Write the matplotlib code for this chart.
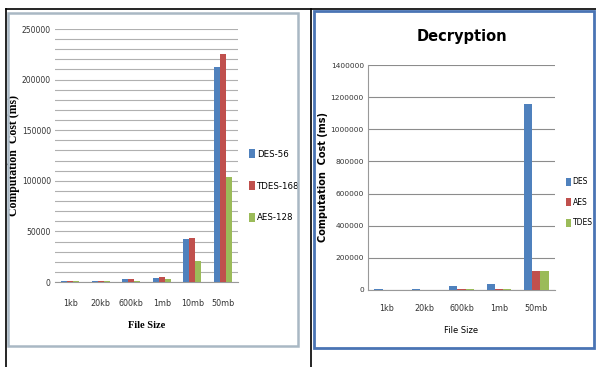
import matplotlib.pyplot as plt
from matplotlib.patches import Rectangle
from matplotlib.lines import Line2D
from matplotlib.ticker import FuncFormatter
import numpy as np

# 左图：加密（无标题）
enc_sizes = ['1kb', '20kb', '600kb', '1mb', '10mb', '50mb']
enc_des56 = [1000, 1000, 2500, 3500, 42000, 212000]
enc_tdes168 = [1000, 1000, 2500, 5000, 43000, 225000]
enc_aes128 = [500, 500, 1000, 2500, 21000, 104000]
enc_names = ['DES-56', 'TDES-168', 'AES-128']

# 右图：解密
dec_sizes = ['1kb', '20kb', '600kb', '1mb', '50mb']
dec_des = [5000, 5000, 28000, 35000, 1157000]
dec_aes = [3000, 3000, 5000, 5000, 120000]
dec_tdes = [3000, 3000, 5000, 5000, 120000]
dec_names = ['DES', 'AES', 'TDES']

colors = ['#4F81BD', '#C0504D', '#9BBB59']
W, H = 596, 367


def box(x0, y0, x1, y1):
    # 像素坐标 -> figure 坐标
    return [x0 / W, 1 - y1 / H, (x1 - x0) / W, (y1 - y0) / H]


fig = plt.figure(figsize=(W / 100, H / 100), dpi=100)
fig.patch.set_facecolor('white')

# 外框线
fig.add_artist(Line2D([6 / W, 1], [1 - 9 / H, 1 - 9 / H], color='black', lw=1.2))
fig.add_artist(Line2D([6 / W, 6 / W], [0, 1 - 9 / H], color='black', lw=1.2))
fig.add_artist(Line2D([311 / W, 311 / W], [0, 1 - 9 / H], color='black', lw=1.2))
fig.add_artist(Rectangle((8 / W, 1 - 346 / H), (298 - 8) / W, (346 - 13) / H,
                         fill=False, edgecolor='#a9b8c4', lw=1.8))
fig.add_artist(Rectangle((314 / W, 1 - 348 / H), (594 - 314) / W, (348 - 11) / H,
                         fill=False, edgecolor='#4a74b4', lw=2))


def draw_bars(ax, sizes, series, names, width, fs):
    x = np.arange(len(sizes))
    n = len(series)
    for i, (vals, name) in enumerate(zip(series, names)):
        ax.bar(x + (i - (n - 1) / 2) * width, vals, width, color=colors[i],
               label=name, zorder=3)
    ax.set_xticks(x)
    ax.set_xticklabels(sizes)
    ax.set_xlim(-0.5, len(sizes) - 0.5)
    for s in ['top', 'right']:
        ax.spines[s].set_visible(False)
    ax.spines['left'].set_color('#999999')
    ax.spines['bottom'].set_color('#999999')
    ax.tick_params(length=0, labelsize=fs, colors='#333333', pad=3)
    ax.yaxis.set_major_formatter(FuncFormatter(lambda v, p: f'{int(v)}'))
    return x


# 左图
ax1 = fig.add_axes(box(55, 29, 238, 282))
draw_bars(ax1, enc_sizes, [enc_des56, enc_tdes168, enc_aes128], enc_names, 0.2, 5.5)
ax1.set_ylim(0, 250000)
ax1.set_yticks(np.arange(0, 250001, 50000))
ax1.set_yticks(np.arange(0, 250001, 10000), minor=True)
ax1.tick_params(which='minor', length=0)
ax1.tick_params(axis='x', pad=12, labelsize=5.8)
ax1.grid(axis='y', which='both', color='#b0b0b0', lw=0.8, zorder=0)
ax1.spines['left'].set_visible(False)
ax1.set_xlabel('File Size', fontsize=7.5, fontweight='bold', family='Liberation Serif')
ax1.xaxis.set_label_coords(0.5, -0.155)
ax1.set_ylabel('Computation  Cost (ms)', fontsize=8.5, fontweight='bold',
               family='Liberation Serif')
ax1.yaxis.set_label_coords(-0.19, 0.5)
ax1.legend(loc='center left', bbox_to_anchor=(1.02, 0.38), frameon=False, fontsize=6.2,
           handlelength=0.7, handleheight=1.2, handletextpad=0.2, labelspacing=2.6)

# 右图
ax2 = fig.add_axes(box(368, 65, 555, 290))
draw_bars(ax2, dec_sizes, [dec_des, dec_aes, dec_tdes], dec_names, 0.22, 5.3)
ax2.set_ylim(0, 1400000)
ax2.set_yticks(np.arange(0, 1400001, 200000))
ax2.tick_params(axis='x', pad=10, labelsize=5.8)
ax2.grid(axis='y', color='#8c8c8c', lw=0.8, zorder=0)
ax2.set_title('Decryption', fontsize=10.5, fontweight='bold', pad=17)
ax2.set_xlabel('File Size', fontsize=6)
ax2.xaxis.set_label_coords(0.5, -0.16)
ax2.set_ylabel('Computation  Cost (ms)', fontsize=7, fontweight='bold')
ax2.yaxis.set_label_coords(-0.215, 0.5)
ax2.legend(loc='center left', bbox_to_anchor=(1.02, 0.39), frameon=False, fontsize=5.5,
           handlelength=0.7, handleheight=1.2, handletextpad=0.2, labelspacing=1.5)

fig.savefig('out.png', dpi=100)
